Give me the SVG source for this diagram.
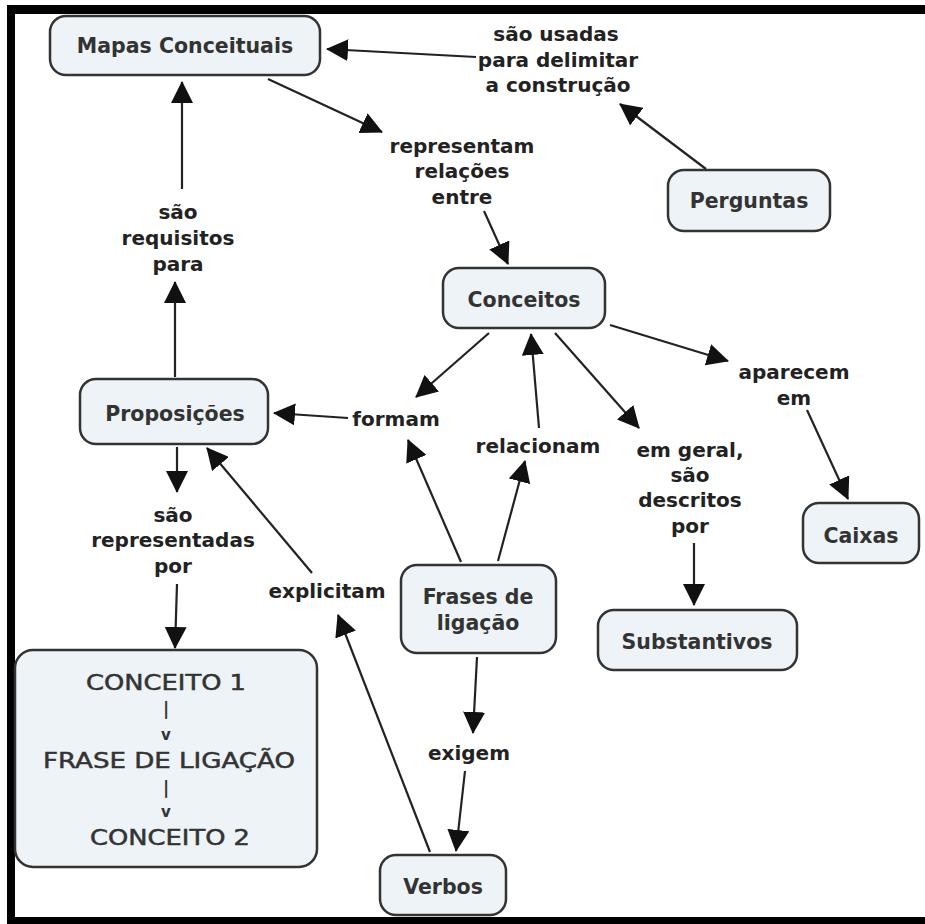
<svg xmlns="http://www.w3.org/2000/svg" width="925" height="924" viewBox="0 0 925 924">
<defs>
<marker id="ah" viewBox="0 0 22 22" markerWidth="22" markerHeight="22" refX="21" refY="11" orient="auto" markerUnits="userSpaceOnUse">
<path d="M0,0 L22,11 L0,22 Z" fill="#111"/>
</marker>
<style>
.node rect{fill:#edf3f6;stroke:#333;stroke-width:2.5}
.nt{font-family:"DejaVu Sans","Liberation Sans",sans-serif;font-weight:bold;font-size:20.5px;fill:#333;text-anchor:middle}
.lt{font-family:"DejaVu Sans","Liberation Sans",sans-serif;font-weight:bold;font-size:20px;fill:#222;text-anchor:middle}
.bt{font-family:"DejaVu Sans","Liberation Sans",sans-serif;font-size:21px;fill:#333;stroke:#333;stroke-width:0.5;text-anchor:middle}
.bs{font-family:"DejaVu Sans","Liberation Sans",sans-serif;font-weight:bold;fill:#333;text-anchor:middle}
.c line{stroke:#222;stroke-width:2.2;marker-end:url(#ah)}
</style>
</defs>
<rect width="925" height="924" fill="#fff"/>
<g id="frame" fill="#000">
<rect x="7" y="5" width="918" height="9"/>
<rect x="7" y="5" width="8" height="919"/>
<rect x="7" y="917" width="918" height="7"/>
</g>
<g class="c" id="connectors">
<line x1="476" y1="57" x2="327" y2="49"/>
<line x1="706" y1="169" x2="620" y2="104"/>
<line x1="268" y1="79" x2="382" y2="132"/>
<line x1="484" y1="211" x2="508" y2="264"/>
<line x1="175" y1="377" x2="175" y2="282"/>
<line x1="182" y1="189" x2="182" y2="82"/>
<line x1="489" y1="333" x2="416" y2="397"/>
<line x1="348" y1="418" x2="274" y2="413"/>
<line x1="461" y1="562" x2="408" y2="440"/>
<line x1="498" y1="561" x2="525" y2="461"/>
<line x1="539" y1="428" x2="531" y2="334"/>
<line x1="555" y1="333" x2="639" y2="428"/>
<line x1="694" y1="543" x2="694" y2="605"/>
<line x1="610" y1="325" x2="728" y2="361"/>
<line x1="807" y1="410" x2="848" y2="499"/>
<line x1="177" y1="447" x2="177" y2="492"/>
<line x1="177" y1="584" x2="175" y2="648"/>
<line x1="430" y1="852" x2="338" y2="615"/>
<line x1="312" y1="573" x2="207" y2="448"/>
<line x1="477" y1="657" x2="473" y2="733"/>
<line x1="465" y1="771" x2="456" y2="851"/>
</g>
<g id="mapas" class="node"><rect x="50" y="16" width="270" height="59" rx="16"/><text class="nt" x="185" y="53">Mapas Conceituais</text></g>
<g id="perguntas" class="node"><rect x="668" y="170" width="162" height="61" rx="16"/><text class="nt" x="749" y="208">Perguntas</text></g>
<g id="conceitos" class="node"><rect x="443" y="268" width="162" height="60" rx="16"/><text class="nt" x="524" y="307">Conceitos</text></g>
<g id="proposicoes" class="node"><rect x="80" y="379" width="188" height="65" rx="16"/><text class="nt" x="175" y="421">Proposições</text></g>
<g id="caixas" class="node"><rect x="803" y="503" width="116" height="60" rx="16"/><text class="nt" x="861" y="543">Caixas</text></g>
<g id="substantivos" class="node"><rect x="598" y="610" width="199" height="60" rx="16"/><text class="nt" x="697" y="649">Substantivos</text></g>
<g id="frases" class="node"><rect x="401" y="565" width="155" height="88" rx="16"/><text class="nt" x="478" y="604">Frases de</text><text class="nt" x="478" y="630">ligação</text></g>
<g id="verbos" class="node"><rect x="380" y="855" width="126" height="60" rx="16"/><text class="nt" x="443" y="894">Verbos</text></g>
<g id="estrutura" class="node"><rect x="15" y="650" width="302" height="217" rx="18"/>
<text class="bt" x="166" y="690" textLength="160" lengthAdjust="spacingAndGlyphs">CONCEITO 1</text>
<text class="bs" x="166" y="715" font-size="17">|</text>
<text class="bs" x="166" y="740" font-size="15">v</text>
<text class="bt" x="169" y="768" textLength="252" lengthAdjust="spacingAndGlyphs">FRASE DE LIGAÇÃO</text>
<text class="bs" x="166" y="794" font-size="17">|</text>
<text class="bs" x="166" y="817" font-size="15">v</text>
<text class="bt" x="170" y="845" textLength="160" lengthAdjust="spacingAndGlyphs">CONCEITO 2</text>
</g>
<g id="labels">
<g id="l-usadas"><text class="lt" x="556" y="41">são usadas</text><text class="lt" x="558" y="67">para delimitar</text><text class="lt" x="558" y="92">a construção</text></g>
<g id="l-representam"><text class="lt" x="462" y="153">representam</text><text class="lt" x="462" y="178">relações</text><text class="lt" x="462" y="204">entre</text></g>
<g id="l-requisitos"><text class="lt" x="178" y="219">são</text><text class="lt" x="178" y="245">requisitos</text><text class="lt" x="178" y="271">para</text></g>
<g id="l-formam"><text class="lt" x="396" y="426">formam</text></g>
<g id="l-relacionam"><text class="lt" x="538" y="453">relacionam</text></g>
<g id="l-aparecem"><text class="lt" x="794" y="379">aparecem</text><text class="lt" x="794" y="405">em</text></g>
<g id="l-descritos"><text class="lt" x="690" y="457">em geral,</text><text class="lt" x="690" y="482">são</text><text class="lt" x="690" y="507">descritos</text><text class="lt" x="690" y="533">por</text></g>
<g id="l-representadas"><text class="lt" x="173" y="522">são</text><text class="lt" x="173" y="547">representadas</text><text class="lt" x="173" y="573">por</text></g>
<g id="l-explicitam"><text class="lt" x="327" y="598">explicitam</text></g>
<g id="l-exigem"><text class="lt" x="469" y="760">exigem</text></g>
</g>
</svg>
